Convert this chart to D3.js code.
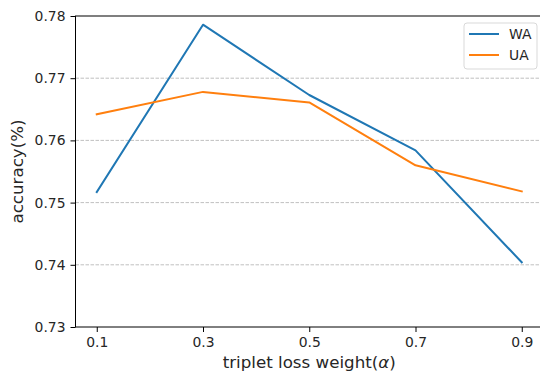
<!DOCTYPE html>
<html>
<head>
<meta charset="utf-8">
<script src="https://cdn.jsdelivr.net/npm/d3@7"></script>
<style>
  body { margin: 0; background: #fff; }
  svg { display: block; font-family: "DejaVu Sans", sans-serif; }
</style>
</head>
<body>
<svg id="chart" width="540" height="371"></svg>
<script>
// data
const alphas = [0.1, 0.3, 0.5, 0.7, 0.9];
const waValues = [0.7517, 0.7786, 0.7673, 0.7584, 0.7404];
const uaValues = [0.7642, 0.7678, 0.7661, 0.7560, 0.7518];
const yTicks = [0.73, 0.74, 0.75, 0.76, 0.77, 0.78];
const seriesNames = ['WA', 'UA'];
const seriesColors = ['#1f77b4', '#ff7f0e'];

const svg = d3.select('#chart');
const margin = { left: 75.5, top: 16, right: 543, bottom: 327 };

const x = d3.scaleLinear().domain([0.06, 0.94]).range([margin.left, margin.right]);
const y = d3.scaleLinear().domain([0.73, 0.78]).range([margin.bottom, margin.top]);

// --- grid lines ---
svg.append('g')
  .selectAll('line')
  .data(yTicks.slice(1, -1))
  .enter()
  .append('line')
  .attr('x1', margin.left).attr('x2', margin.right)
  .attr('y1', d => y(d)).attr('y2', d => y(d))
  .attr('stroke', '#b0b0b0')
  .attr('stroke-width', 0.8)
  .attr('stroke-dasharray', '3.5,1.5');

// --- lines ---
const line = d3.line().x(d => x(d[0])).y(d => y(d[1]));
[waValues, uaValues].forEach((vals, i) => {
  svg.append('path')
    .datum(alphas.map((a, j) => [a, vals[j]]))
    .attr('d', line)
    .attr('fill', 'none')
    .attr('stroke', seriesColors[i])
    .attr('stroke-width', 2)
    .attr('stroke-linejoin', 'round')
    .attr('stroke-linecap', 'square');
});

// --- axes ---
const xAxis = d3.axisBottom(x).tickValues(alphas).tickFormat(d3.format('.1f')).tickSize(5).tickPadding(5);
const yAxis = d3.axisLeft(y).tickValues(yTicks).tickFormat(d3.format('.2f')).tickSize(5).tickPadding(5);

const gx = svg.append('g').attr('transform', `translate(0,${margin.bottom})`).call(xAxis);
const gy = svg.append('g').attr('transform', `translate(${margin.left},0)`).call(yAxis);
[gx, gy].forEach(g => {
  g.select('.domain').remove();
  g.selectAll('line').attr('stroke', '#000').attr('stroke-width', 1);
  g.selectAll('text').attr('font-size', 13.9).attr('fill', '#262626')
    .style('font-family', '"DejaVu Sans", sans-serif');
});

// spines
svg.append('rect')
  .attr('x', margin.left).attr('y', margin.top)
  .attr('width', margin.right - margin.left).attr('height', margin.bottom - margin.top)
  .attr('fill', 'none').attr('stroke', '#000').attr('stroke-width', 1);

// --- axis labels ---
const xLabel = svg.append('text')
  .attr('x', (margin.left + margin.right) / 2).attr('y', 368)
  .attr('text-anchor', 'middle').attr('font-size', 16.7).attr('fill', '#262626');
xLabel.append('tspan').text('triplet loss weight(');
xLabel.append('tspan').attr('font-style', 'italic').text('α');
xLabel.append('tspan').text(')');

svg.append('text')
  .attr('transform', `translate(23,${(margin.top + margin.bottom) / 2}) rotate(-90)`)
  .attr('text-anchor', 'middle').attr('font-size', 16.7).attr('fill', '#262626')
  .text('accuracy(%)');

// --- legend ---
const legend = svg.append('g').attr('transform', 'translate(464,23)');
legend.append('rect')
  .attr('width', 73).attr('height', 46).attr('rx', 3)
  .attr('fill', '#fff').attr('fill-opacity', 0.8)
  .attr('stroke', '#d9d9d9').attr('stroke-width', 1);
seriesNames.forEach((name, i) => {
  const ly = 11 + i * 21;
  legend.append('line')
    .attr('x1', 5).attr('x2', 35).attr('y1', ly).attr('y2', ly)
    .attr('stroke', seriesColors[i]).attr('stroke-width', 2);
  legend.append('text')
    .attr('x', 45).attr('y', ly + 5)
    .attr('font-size', 13.9).attr('fill', '#262626')
    .text(name);
});
</script>
</body>
</html>
